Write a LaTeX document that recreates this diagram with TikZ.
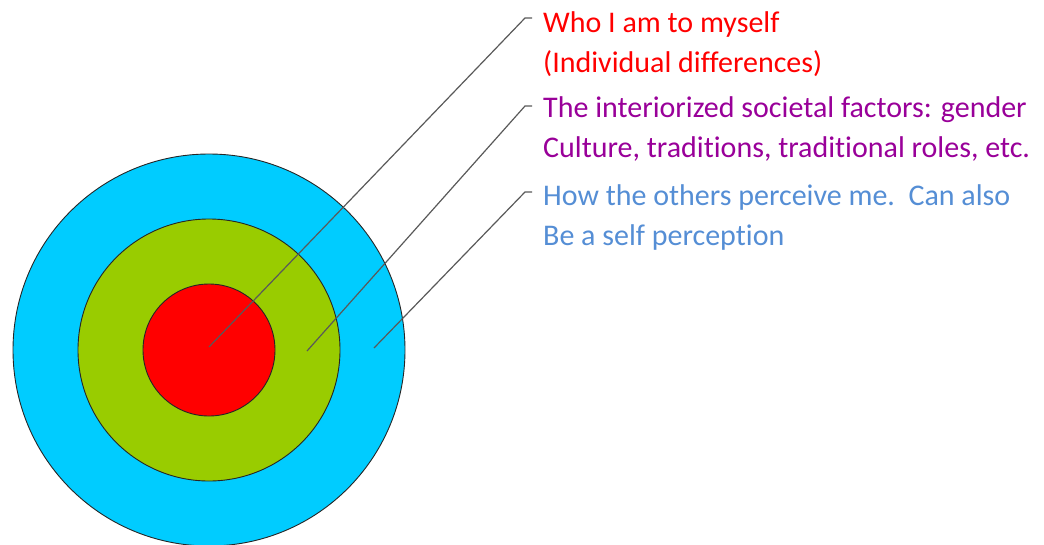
\documentclass[tikz,border=0pt]{standalone}
\usepackage{fontspec}
\setmainfont{Carlito}[Ligatures=CommonOff]
\definecolor{ringblue}{HTML}{00CCFF}
\definecolor{ringgreen}{HTML}{99CC00}
\definecolor{ringred}{HTML}{FF0000}
\definecolor{txtpurple}{HTML}{990099}
\definecolor{txtblue}{HTML}{558ED5}
\tikzset{
  ring/.style={draw=black!85, line width=0.9pt},
  pointer/.style={draw=black!65, line width=1.2pt},
  note/.style={anchor=base west, align=left, inner sep=0pt,
    font=\fontsize{30}{40}\selectfont},
}
\begin{document}
\begin{tikzpicture}[x=1pt,y=-1pt]
\useasboundingbox (0,0) rectangle (1044,544);

% the three rings
\fill[ringblue, ring] (209,350) circle(196);
\fill[ringgreen, ring] (209,350) circle(131);
\fill[ringred, ring] (209,350) circle(66);

\coordinate (c1) at (209,347);
\coordinate (c2) at (307,351);
\coordinate (c3) at (374,348);

% base anchor sits on the last line
\node[note, text=ringred] (t1) at (543,72) {Who I am to myself\\(Individual differences)};
\node[note, text=txtpurple] (t2) at (543,157) {The interiorized societal factors: gender\\Culture, traditions, traditional roles, etc.};
\node[note, text=txtblue] (t3) at (543,245) {How the others perceive me.\ \ Can also\\Be a self perception};

\coordinate (k1) at (525,18);
\coordinate (e1) at (532,18);
\coordinate (k2) at (525,106);
\coordinate (e2) at (532,106);
\coordinate (k3) at (525,192);
\coordinate (e3) at (532,192);

\draw[pointer] (c1) -- (k1) -- (e1);
\draw[pointer] (c2) -- (k2) -- (e2);
\draw[pointer] (c3) -- (k3) -- (e3);

\end{tikzpicture}
\end{document}
